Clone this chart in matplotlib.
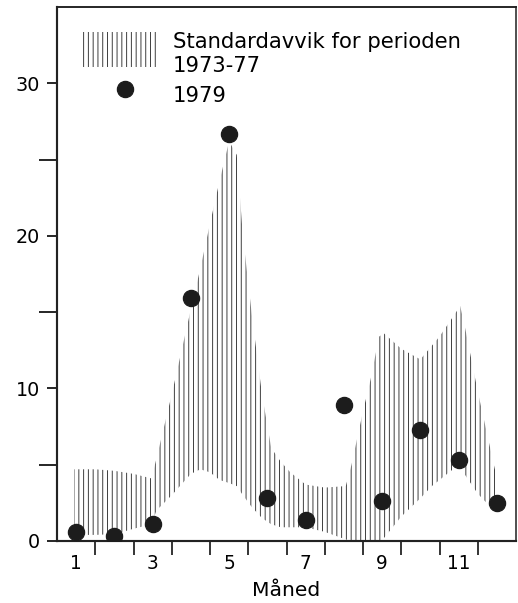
import matplotlib
matplotlib.use("Agg")
import matplotlib.pyplot as plt
from matplotlib.patches import Rectangle
import numpy as np

# standard deviation band 1973-77 (month, lower, upper)
band_month = [0.95, 1.5, 2.0, 2.5, 2.97, 3.1, 3.5, 4.0, 4.25, 4.5, 4.75, 5.0, 5.2,
              5.36, 5.6, 5.86, 6.1, 6.35, 6.6, 7.0, 7.5, 8.05, 8.2, 8.5, 8.7, 8.92,
              9.05, 9.5, 10.0, 10.3, 10.5, 10.8, 11.04, 11.15, 11.5, 12.0]
band_upper = [4.7, 4.7, 4.6, 4.4, 4.1, 5.4, 9.6, 15.2, 17.9, 20.8, 23.6, 26.2, 25.3,
              20.0, 14.7, 9.6, 6.1, 5.2, 4.5, 3.7, 3.5, 3.6, 5.0, 8.5, 10.6, 13.4,
              13.6, 12.6, 11.9, 12.8, 13.4, 14.5, 15.4, 14.2, 9.8, 4.1]
band_lower = [0.4, 0.4, 0.45, 0.8, 1.1, 2.0, 3.0, 4.4, 4.7, 4.5, 4.0, 3.8, 3.6,
              3.0, 2.2, 1.5, 1.1, 0.9, 0.9, 0.9, 0.6, 0.1, 0.0, 0.0, 0.0, 0.0,
              0.2, 1.6, 2.8, 3.6, 4.0, 4.6, 5.0, 4.4, 3.1, 1.8]

# 1979 values
months = [1, 2, 3, 4, 5, 6, 7, 8, 9, 10, 11, 12]
val_1979 = [0.6, 0.3, 1.1, 15.9, 26.7, 2.8, 1.4, 8.9, 2.6, 7.3, 5.3, 2.5]

xtick_labels = ["1", "3", "5", "7", "9", "11"]

DPI = 86
plt.rcParams["font.family"] = ["DejaVu Sans"]
plt.rcParams["hatch.linewidth"] = 0.8

band_col = "#3a3a3a"
dot_col = "#1c1c1c"

fig = plt.figure(figsize=(518 / DPI, 603 / DPI), dpi=DPI)
ax = fig.add_axes([57 / 518, 1 - 541 / 603, 459 / 518, 534 / 603])

ax.fill_between(band_month, band_lower, band_upper, facecolor="none",
                edgecolor=band_col, linewidth=0, hatch="|||")
ax.scatter(months, val_1979, s=185, color=dot_col, zorder=3)

ax.set_xlim(0.5, 12.5)
ax.set_ylim(0, 35)

ax.set_yticks([0, 10, 20, 30])
ax.set_yticks([5, 15, 25], minor=True)
ax.tick_params(axis="y", which="major", length=8.5, width=1.6, pad=6,
               labelsize=16, color="#222")
ax.tick_params(axis="y", which="minor", length=15, width=1.6, color="#222")

ax.set_xticks([1, 3, 5, 7, 9, 11])
ax.set_xticklabels(xtick_labels)
ax.set_xticks(np.arange(1.5, 12.5, 1.0), minor=True)
ax.tick_params(axis="x", which="major", length=0, pad=11, labelsize=15.5)
ax.tick_params(axis="x", which="minor", length=11.5, width=1.5, color="#222")

for side, lw in [("left", 1.8), ("bottom", 1.8), ("top", 1.6), ("right", 1.3)]:
    ax.spines[side].set_linewidth(lw)
    ax.spines[side].set_color("#222")

ax.set_xlabel("Måned", fontsize=17, labelpad=7)

# legend drawn by hand (hatched key spans two text lines)
ax.add_patch(Rectangle((0.0545, 0.8876), 0.1677, 0.0656, transform=ax.transAxes,
                       facecolor="none", edgecolor=band_col, linewidth=0,
                       hatch="|||"))
ax.scatter([0.148], [0.8464], s=185, color=dot_col, transform=ax.transAxes,
           clip_on=False)
ax.text(0.253, 0.9232, "Standardavvik for perioden", transform=ax.transAxes,
        fontsize=17.7, va="baseline", ha="left")
ax.text(0.253, 0.8783, "1973-77", transform=ax.transAxes,
        fontsize=17.7, va="baseline", ha="left")
ax.text(0.253, 0.8221, "1979", transform=ax.transAxes,
        fontsize=17.7, va="baseline", ha="left")

fig.savefig("out.png", dpi=DPI)
